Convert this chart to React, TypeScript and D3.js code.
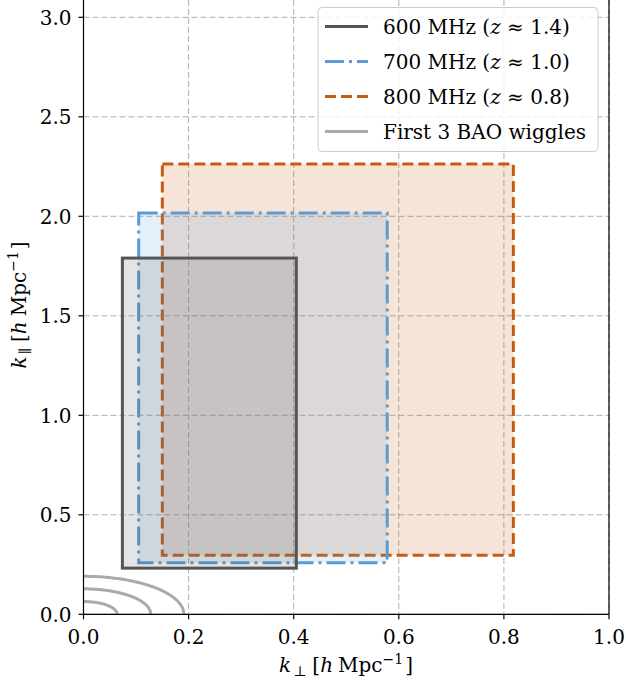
import React from "react";
import * as d3 from "d3";

const bands = ["600 MHz", "700 MHz", "800 MHz"];
const redshifts = ["1.4", "1.0", "0.8"];
const kperpMin = [0.074, 0.105, 0.150];
const kperpMax = [0.405, 0.578, 0.818];
const kparMin = [0.232, 0.259, 0.297];
const kparMax = [1.79, 2.016, 2.263];
const baoRadii = [0.064, 0.128, 0.191];
const xTicks = [0.0, 0.2, 0.4, 0.6, 0.8, 1.0];
const yTicks = [0.0, 0.5, 1.0, 1.5, 2.0, 2.5, 3.0];

const colors = ["#555555", "#5b9bd5", "#c85a14"];
const dashes = ["none", "19,5,3,5", "11,5"];
const W = 626;
const H = 682;
const FONT = "'DejaVu Serif', serif";

export default function App() {
  const x = d3.scaleLinear().domain([0, 1]).range([83.5, 609]);
  const y = d3.scaleLinear().domain([0, 3.0]).range([614.3, 17.3]);
  const fmt = d3.format(".1f");

  const arcPath = (r: number) => {
    const thetas = d3.range(0, 91).map((d) => (d * Math.PI) / 180);
    return d3
      .line<number>()
      .x((t) => x(r * Math.cos(t)))
      .y((t) => y(r * Math.sin(t)))(thetas) as string;
  };

  const order = [2, 1, 0];
  const fs = 20;

  const label = (sub: string) => (
    <>
      <tspan fontStyle="italic">k</tspan>
      <tspan fontSize={14} dy={4} dx={2}>{sub}</tspan>
      <tspan dy={-4} dx={6}>[</tspan>
      <tspan fontStyle="italic">h</tspan>
      <tspan dx={5}>Mpc</tspan>
      <tspan fontSize={14} dy={-8}>−1</tspan>
      <tspan dy={8} dx={2}>]</tspan>
    </>
  );

  return (
    <svg
      width={W}
      height={H}
      style={{ position: "absolute", left: 0, top: 0, background: "#fff" }}
      fontFamily={FONT}
    >
      <rect x={0} y={0} width={W} height={H} fill="#fff" />
      {/* grid */}
      <g stroke="#b0b0b0" strokeWidth={1} strokeDasharray="6,3">
        {xTicks.map((t) => (
          <line key={"gx" + t} x1={x(t)} x2={x(t)} y1={0} y2={y(0)} />
        ))}
        {yTicks.map((t) => (
          <line key={"gy" + t} x1={x(0)} x2={x(1)} y1={y(t)} y2={y(t)} />
        ))}
      </g>
      {/* BAO arcs */}
      <g fill="none" stroke="#aaaaaa" strokeWidth={3}>
        {baoRadii.map((r) => (
          <path key={"bao" + r} d={arcPath(r)} />
        ))}
      </g>
      {/* boxes */}
      {order.map((i) => (
        <rect
          key={"box" + i}
          x={x(kperpMin[i])}
          y={y(kparMax[i])}
          width={x(kperpMax[i]) - x(kperpMin[i])}
          height={y(kparMin[i]) - y(kparMax[i])}
          fill={colors[i]}
          fillOpacity={0.16}
          stroke={colors[i]}
          strokeWidth={3}
          strokeDasharray={dashes[i]}
        />
      ))}
      {/* spines */}
      <g stroke="#000" strokeWidth={1.2}>
        <line x1={x(0)} x2={x(0)} y1={0} y2={y(0)} />
        <line x1={x(0)} x2={x(1)} y1={y(0)} y2={y(0)} />
        <line x1={x(1)} x2={x(1)} y1={0} y2={y(0)} />
      </g>
      {/* ticks */}
      <g stroke="#000" strokeWidth={1.2}>
        {xTicks.map((t) => (
          <line key={"tx" + t} x1={x(t)} x2={x(t)} y1={y(0)} y2={y(0) + 5} />
        ))}
        {yTicks.map((t) => (
          <line key={"ty" + t} x1={x(0) - 5} x2={x(0)} y1={y(t)} y2={y(t)} />
        ))}
      </g>
      <g fontSize={fs} fill="#000">
        {xTicks.map((t) => (
          <text key={"lx" + t} x={x(t)} y={y(0) + 30} textAnchor="middle">
            {fmt(t)}
          </text>
        ))}
        {yTicks.map((t) => (
          <text key={"ly" + t} x={x(0) - 12} y={y(t) + 7.5} textAnchor="end">
            {fmt(t)}
          </text>
        ))}
      </g>
      {/* axis labels */}
      <text x={346} y={672} textAnchor="middle" fontSize={fs}>
        {label("⊥")}
      </text>
      <text
        transform={`translate(26,305) rotate(-90)`}
        textAnchor="middle"
        fontSize={fs}
      >
        {label("∥")}
      </text>
      {/* legend */}
      <rect
        x={318}
        y={7.5}
        width={280}
        height={144}
        rx={4}
        fill="#fff"
        fillOpacity={0.8}
        stroke="#cccccc"
        strokeWidth={1}
      />
      {[0, 1, 2, 3].map((i) => {
        const cy = 26.5 + i * 35;
        const col = i < 3 ? colors[i] : "#aaaaaa";
        const da = i < 3 ? dashes[i] : "none";
        return (
          <g key={"leg" + i}>
            <line
              x1={325}
              x2={368}
              y1={cy}
              y2={cy}
              stroke={col}
              strokeWidth={3}
              strokeDasharray={da}
            />
            <text x={383} y={cy + 7} fontSize={fs}>
              {i < 3 ? (
                <>
                  {bands[i]} (
                  <tspan fontStyle="italic">z</tspan>
                  {" ≈ " + redshifts[i] + ")"}
                </>
              ) : (
                "First 3 BAO wiggles"
              )}
            </text>
          </g>
        );
      })}
    </svg>
  );
}
